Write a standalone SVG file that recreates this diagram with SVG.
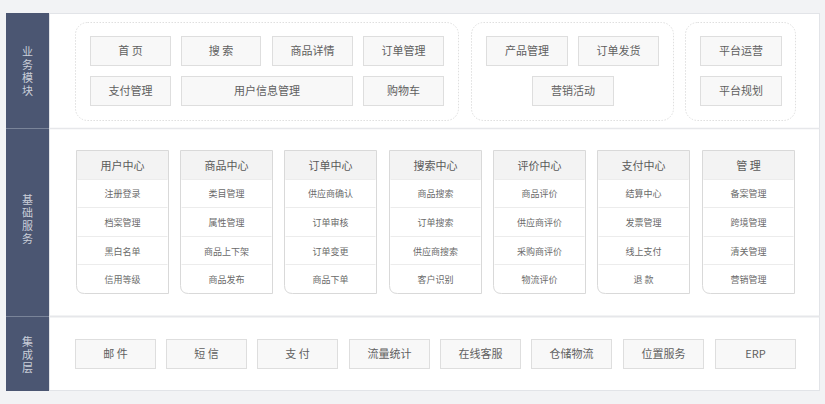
<svg xmlns="http://www.w3.org/2000/svg" width="825" height="404" viewBox="0 0 825 404">
<style>
text{font-family:"Noto Sans CJK SC","Noto Sans",sans-serif;text-anchor:middle}
.side{fill:#4b5672}
.sidet{fill:#c9ced9;font-size:11px;writing-mode:vertical-rl;letter-spacing:2px}
.grp{fill:#fff;stroke:#dfdfdf;stroke-width:1;stroke-dasharray:1.5 1.5}
.btn rect{fill:#f8f8f8;stroke:#dedede;stroke-width:1}
.btn text{fill:#606060;font-size:11px}
.card .frame{fill:#fff;stroke:#d9d9d9;stroke-width:1}
.card .head{fill:#f3f3f3}
.card .sep{stroke:#ececec;stroke-width:1}
.card .ht{fill:#5a5a5a;font-size:11px}
.card .rt{fill:#6a6a6a;font-size:9px}
</style>
<rect x="0" y="0" width="825" height="404" fill="#f2f3f5"/>
<g id="panel">
<rect x="49.5" y="13.5" width="770" height="377" fill="#fff" stroke="#e2e4e8"/>
<line x1="49" y1="128.5" x2="820" y2="128.5" stroke="#e6e7ea" stroke-width="1.5"/>
<line x1="49" y1="316.5" x2="820" y2="316.5" stroke="#e6e7ea" stroke-width="2"/>
</g>
<g id="sidebar">
<rect class="side" x="6" y="13" width="43" height="378"/>
<line x1="6" y1="128.5" x2="49" y2="128.5" stroke="#7a8499" stroke-width="1"/>
<line x1="6" y1="316.5" x2="49" y2="316.5" stroke="#7a8499" stroke-width="1"/>
<text class="sidet" x="27.5" y="72">业务模块</text>
<text class="sidet" x="27.5" y="220">基础服务</text>
<text class="sidet" x="27.5" y="356">集成层</text>
</g>
<g id="business">
<rect class="grp" x="75.5" y="22.5" width="383" height="98" rx="12"/>
<rect class="grp" x="471.5" y="22.5" width="202" height="98" rx="12"/>
<rect class="grp" x="685.5" y="22.5" width="110" height="98" rx="12"/>
<g id="b-home" class="btn"><rect x="90.5" y="36.5" width="80" height="29"/><text x="130.5" y="55">首 页</text></g>
<g id="b-search" class="btn"><rect x="181.5" y="36.5" width="79" height="29"/><text x="221" y="55">搜 索</text></g>
<g id="b-detail" class="btn"><rect x="272.5" y="36.5" width="80" height="29"/><text x="312.5" y="55">商品详情</text></g>
<g id="b-order" class="btn"><rect x="363.5" y="36.5" width="80" height="29"/><text x="403.5" y="55">订单管理</text></g>
<g id="b-pay" class="btn"><rect x="90.5" y="76.5" width="80" height="29"/><text x="130.5" y="95">支付管理</text></g>
<g id="b-user" class="btn"><rect x="181.5" y="76.5" width="171" height="29"/><text x="267" y="95">用户信息管理</text></g>
<g id="b-cart" class="btn"><rect x="363.5" y="76.5" width="80" height="29"/><text x="403.5" y="95">购物车</text></g>
<g id="b-product" class="btn"><rect x="486.5" y="36.5" width="81" height="29"/><text x="527" y="55">产品管理</text></g>
<g id="b-ship" class="btn"><rect x="578.5" y="36.5" width="80" height="29"/><text x="618.5" y="55">订单发货</text></g>
<g id="b-market" class="btn"><rect x="532.5" y="76.5" width="81" height="29"/><text x="573" y="95">营销活动</text></g>
<g id="b-ops" class="btn"><rect x="700.5" y="36.5" width="81" height="29"/><text x="741" y="55">平台运营</text></g>
<g id="b-plan" class="btn"><rect x="700.5" y="76.5" width="81" height="29"/><text x="741" y="95">平台规划</text></g>
</g>
<g id="basic">
<g id="c-user" class="card" transform="translate(76.5,150.5)">
<path class="frame" d="M0,0H92V143H8Q0,143 0,135Z"/><rect class="head" x="0.5" y="0.5" width="91" height="28.5"/>
<line class="sep" x1="1" y1="29" x2="91" y2="29"/><line class="sep" x1="1" y1="57" x2="91" y2="57"/><line class="sep" x1="1" y1="86" x2="91" y2="86"/><line class="sep" x1="1" y1="114" x2="91" y2="114"/>
<text class="ht" x="46" y="19">用户中心</text><text class="rt" x="46" y="46.5">注册登录</text><text class="rt" x="46" y="75">档案管理</text><text class="rt" x="46" y="104">黑白名单</text><text class="rt" x="46" y="132">信用等级</text>
</g>
<g id="c-goods" class="card" transform="translate(180.5,150.5)">
<path class="frame" d="M0,0H92V143H8Q0,143 0,135Z"/><rect class="head" x="0.5" y="0.5" width="91" height="28.5"/>
<line class="sep" x1="1" y1="29" x2="91" y2="29"/><line class="sep" x1="1" y1="57" x2="91" y2="57"/><line class="sep" x1="1" y1="86" x2="91" y2="86"/><line class="sep" x1="1" y1="114" x2="91" y2="114"/>
<text class="ht" x="46" y="19">商品中心</text><text class="rt" x="46" y="46.5">类目管理</text><text class="rt" x="46" y="75">属性管理</text><text class="rt" x="46" y="104">商品上下架</text><text class="rt" x="46" y="132">商品发布</text>
</g>
<g id="c-order" class="card" transform="translate(284.5,150.5)">
<path class="frame" d="M0,0H92V143H8Q0,143 0,135Z"/><rect class="head" x="0.5" y="0.5" width="91" height="28.5"/>
<line class="sep" x1="1" y1="29" x2="91" y2="29"/><line class="sep" x1="1" y1="57" x2="91" y2="57"/><line class="sep" x1="1" y1="86" x2="91" y2="86"/><line class="sep" x1="1" y1="114" x2="91" y2="114"/>
<text class="ht" x="46" y="19">订单中心</text><text class="rt" x="46" y="46.5">供应商确认</text><text class="rt" x="46" y="75">订单审核</text><text class="rt" x="46" y="104">订单变更</text><text class="rt" x="46" y="132">商品下单</text>
</g>
<g id="c-search" class="card" transform="translate(389.5,150.5)">
<path class="frame" d="M0,0H92V143H8Q0,143 0,135Z"/><rect class="head" x="0.5" y="0.5" width="91" height="28.5"/>
<line class="sep" x1="1" y1="29" x2="91" y2="29"/><line class="sep" x1="1" y1="57" x2="91" y2="57"/><line class="sep" x1="1" y1="86" x2="91" y2="86"/><line class="sep" x1="1" y1="114" x2="91" y2="114"/>
<text class="ht" x="46" y="19">搜索中心</text><text class="rt" x="46" y="46.5">商品搜索</text><text class="rt" x="46" y="75">订单搜索</text><text class="rt" x="46" y="104">供应商搜索</text><text class="rt" x="46" y="132">客户识别</text>
</g>
<g id="c-review" class="card" transform="translate(493.5,150.5)">
<path class="frame" d="M0,0H92V143H8Q0,143 0,135Z"/><rect class="head" x="0.5" y="0.5" width="91" height="28.5"/>
<line class="sep" x1="1" y1="29" x2="91" y2="29"/><line class="sep" x1="1" y1="57" x2="91" y2="57"/><line class="sep" x1="1" y1="86" x2="91" y2="86"/><line class="sep" x1="1" y1="114" x2="91" y2="114"/>
<text class="ht" x="46" y="19">评价中心</text><text class="rt" x="46" y="46.5">商品评价</text><text class="rt" x="46" y="75">供应商评价</text><text class="rt" x="46" y="104">采购商评价</text><text class="rt" x="46" y="132">物流评价</text>
</g>
<g id="c-pay" class="card" transform="translate(597.5,150.5)">
<path class="frame" d="M0,0H92V143H8Q0,143 0,135Z"/><rect class="head" x="0.5" y="0.5" width="91" height="28.5"/>
<line class="sep" x1="1" y1="29" x2="91" y2="29"/><line class="sep" x1="1" y1="57" x2="91" y2="57"/><line class="sep" x1="1" y1="86" x2="91" y2="86"/><line class="sep" x1="1" y1="114" x2="91" y2="114"/>
<text class="ht" x="46" y="19">支付中心</text><text class="rt" x="46" y="46.5">结算中心</text><text class="rt" x="46" y="75">发票管理</text><text class="rt" x="46" y="104">线上支付</text><text class="rt" x="46" y="132">退 款</text>
</g>
<g id="c-admin" class="card" transform="translate(702.5,150.5)">
<path class="frame" d="M0,0H92V143H8Q0,143 0,135Z"/><rect class="head" x="0.5" y="0.5" width="91" height="28.5"/>
<line class="sep" x1="1" y1="29" x2="91" y2="29"/><line class="sep" x1="1" y1="57" x2="91" y2="57"/><line class="sep" x1="1" y1="86" x2="91" y2="86"/><line class="sep" x1="1" y1="114" x2="91" y2="114"/>
<text class="ht" x="46" y="19">管 理</text><text class="rt" x="46" y="46.5">备案管理</text><text class="rt" x="46" y="75">跨境管理</text><text class="rt" x="46" y="104">清关管理</text><text class="rt" x="46" y="132">营销管理</text>
</g>
</g>
<g id="integration">
<g id="i-mail" class="btn"><rect x="75.5" y="339.5" width="80" height="29"/><text x="115.5" y="358">邮 件</text></g>
<g id="i-sms" class="btn"><rect x="166.5" y="339.5" width="80" height="29"/><text x="206.5" y="358">短 信</text></g>
<g id="i-pay" class="btn"><rect x="257.5" y="339.5" width="80" height="29"/><text x="297.5" y="358">支 付</text></g>
<g id="i-stat" class="btn"><rect x="349.5" y="339.5" width="80" height="29"/><text x="389.5" y="358">流量统计</text></g>
<g id="i-cs" class="btn"><rect x="440.5" y="339.5" width="80" height="29"/><text x="480.5" y="358">在线客服</text></g>
<g id="i-wms" class="btn"><rect x="531.5" y="339.5" width="80" height="29"/><text x="571.5" y="358">仓储物流</text></g>
<g id="i-loc" class="btn"><rect x="623.5" y="339.5" width="80" height="29"/><text x="663.5" y="358">位置服务</text></g>
<g id="i-erp" class="btn"><rect x="715.5" y="339.5" width="80" height="29"/><text x="755.5" y="358">ERP</text></g>
</g>
<g id="connectors"/>
</svg>
